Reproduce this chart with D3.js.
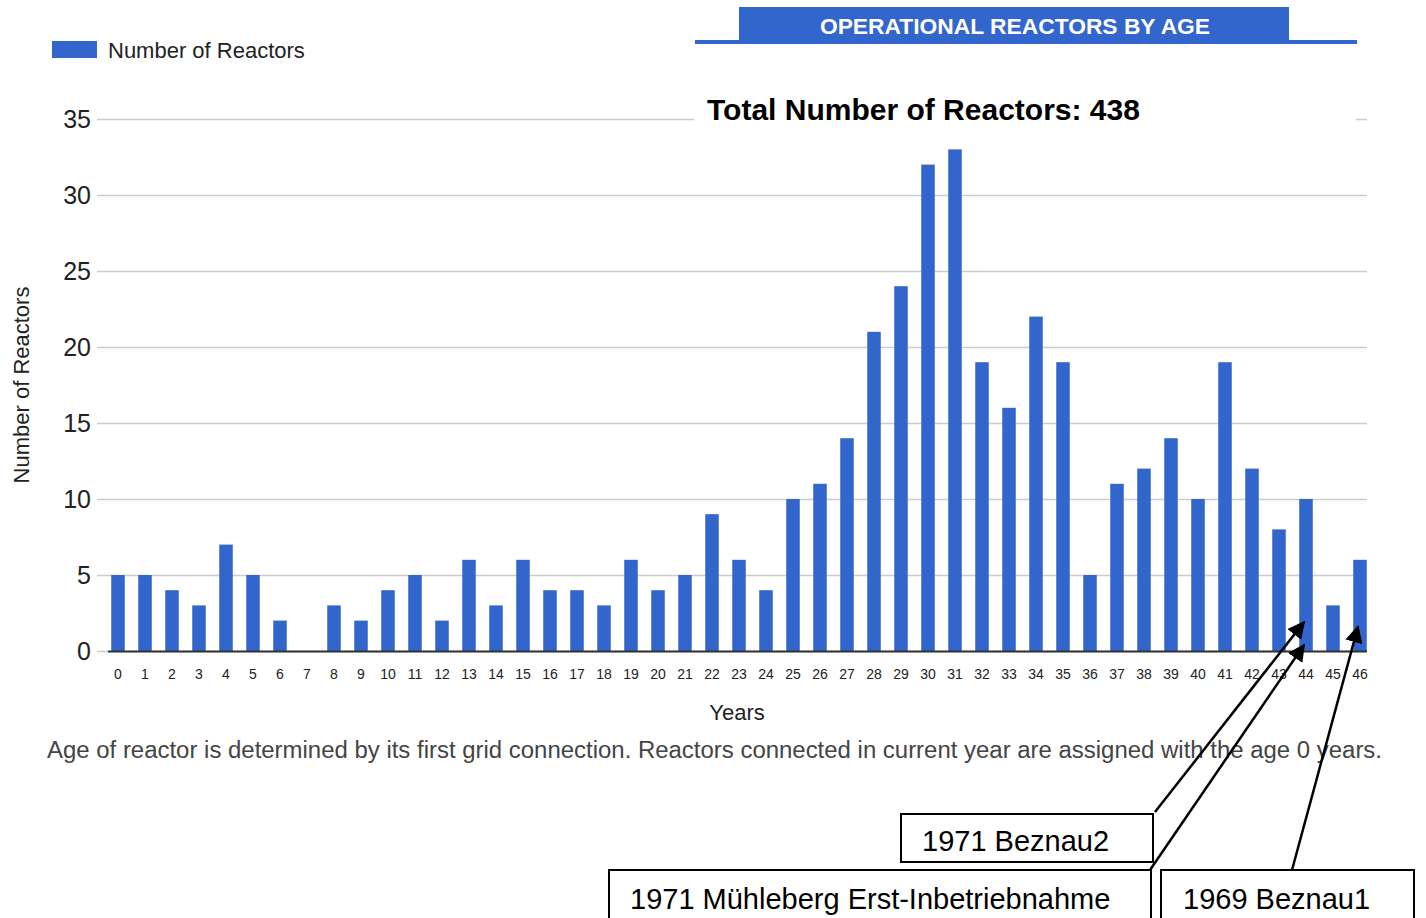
<!DOCTYPE html>
<html>
<head>
<meta charset="utf-8">
<script src="https://cdn.jsdelivr.net/npm/d3@7"></script>
<style>
	html, body { margin: 0; padding: 0; background: #fff; overflow: hidden; }
	svg { display: block; font-family: Arial, 'Liberation Sans', sans-serif; }
</style>
</head>
<body>
<div id="chart"></div>
<script>
// data
var ages = d3.range(0, 47);
var reactors = [5, 5, 4, 3, 7, 5, 2, 0, 3, 2,
	4, 5, 2, 6, 3, 6, 4, 4, 3, 6,
	4, 5, 9, 6, 4, 10, 11, 14, 21, 24,
	32, 33, 19, 16, 22, 19, 5, 11, 12, 14,
	10, 19, 12, 8, 10, 3, 6];
var y_ticks = [0, 5, 10, 15, 20, 25, 30, 35];
var notes = ['1971 Beznau2', '1971 Mühleberg Erst-Inbetriebnahme', '1969 Beznau1'];
var note_age = [44, 44, 46];
var note_val = [1.9, 0.4, 1.6];

var blue = '#3366cc';
var W = 1426, H = 918;

var svg = d3.select('#chart')
	.append('svg')
		.attr('width', W)
		.attr('height', H);

svg.append('defs').append('marker')
	.attr('id', 'arrow')
	.attr('viewBox', '0 0 10 10')
	.attr('refX', 9)
	.attr('refY', 5)
	.attr('markerWidth', 7)
	.attr('markerHeight', 7)
	.attr('markerUnits', 'strokeWidth')
	.attr('orient', 'auto')
	.append('path')
		.attr('d', 'M0,0 L10,5 L0,10 z')
		.style('fill', '#000');

var x = d3.scaleBand()
	.domain(ages)
	.range([104.5, 1373.5])
	.paddingInner(0.5)
	.paddingOuter(0.25);

var y = d3.scaleLinear()
	.domain([0, 35])
	.range([651, 119]);

// grid
svg.append('g')
	.selectAll('line')
	.data(y_ticks)
	.enter()
	.append('line')
		.attr('x1', 97)
		.attr('x2', 1367)
		.attr('y1', function(d) { return y(d) + 0.5; })
		.attr('y2', function(d) { return y(d) + 0.5; })
		.style('stroke', '#cccccc')
		.style('stroke-width', 1.5);

// y axis labels
svg.append('g')
	.selectAll('text')
	.data(y_ticks)
	.enter()
	.append('text')
		.attr('x', 91)
		.attr('y', function(d) { return y(d) + 9; })
		.attr('text-anchor', 'end')
		.text(function(d) { return d; })
		.style('font-size', '25px')
		.style('fill', '#222');

// bars
svg.append('g')
	.selectAll('rect')
	.data(reactors)
	.enter()
	.append('rect')
		.attr('x', function(d, i) { return x(ages[i]); })
		.attr('y', function(d) { return y(d); })
		.attr('width', x.bandwidth())
		.attr('height', function(d) { return y(0) - y(d); })
		.style('fill', blue);

// baseline
svg.append('line')
	.attr('x1', 108)
	.attr('x2', 1367)
	.attr('y1', y(0) + 0.5)
	.attr('y2', y(0) + 0.5)
	.style('stroke', '#333')
	.style('stroke-width', 2);

// x axis labels
svg.append('g')
	.selectAll('text')
	.data(ages)
	.enter()
	.append('text')
		.attr('x', function(d) { return x(d) + x.bandwidth() / 2; })
		.attr('y', 679)
		.attr('text-anchor', 'middle')
		.text(function(d) { return d; })
		.style('font-size', '14px')
		.style('fill', '#222');

// axis titles
svg.append('text')
	.attr('x', 737)
	.attr('y', 720)
	.attr('text-anchor', 'middle')
	.text('Years')
	.style('font-size', '22px')
	.style('fill', '#222');

svg.append('text')
	.attr('transform', 'translate(29,385) rotate(-90)')
	.attr('text-anchor', 'middle')
	.text('Number of Reactors')
	.style('font-size', '22px')
	.style('fill', '#222');

// legend
svg.append('rect')
	.attr('x', 52)
	.attr('y', 41)
	.attr('width', 45)
	.attr('height', 17)
	.style('fill', blue);
svg.append('text')
	.attr('x', 108)
	.attr('y', 58)
	.text('Number of Reactors')
	.style('font-size', '22px')
	.style('fill', '#222');

// header banner
svg.append('rect')
	.attr('x', 695)
	.attr('y', 40)
	.attr('width', 662)
	.attr('height', 4)
	.style('fill', blue);
svg.append('rect')
	.attr('x', 739)
	.attr('y', 7)
	.attr('width', 550)
	.attr('height', 36)
	.style('fill', blue);
svg.append('text')
	.attr('x', 1015)
	.attr('y', 34)
	.attr('text-anchor', 'middle')
	.text('OPERATIONAL REACTORS BY AGE')
	.style('font-size', '22.8px')
	.style('font-weight', 'bold')
	.style('fill', '#fff');

// total label over the top gridline
svg.append('rect')
	.attr('x', 694)
	.attr('y', 100)
	.attr('width', 662)
	.attr('height', 30)
	.style('fill', '#fff');
svg.append('text')
	.attr('x', 707)
	.attr('y', 120)
	.text('Total Number of Reactors: 438')
	.style('font-size', '30px')
	.style('font-weight', 'bold')
	.style('fill', '#000');

// caption
svg.append('text')
	.attr('x', 47)
	.attr('y', 758)
	.attr('textLength', 1335)
	.attr('lengthAdjust', 'spacingAndGlyphs')
	.text('Age of reactor is determined by its first grid connection. Reactors connected in current year are assigned with the age 0 years.')
	.style('font-size', '23px')
	.style('fill', '#444');

// annotations
var boxes = [
	{x: 901, y: 814, w: 252, h: 48, tx: 922, ty: 851, sx: 1155, sy: 812},
	{x: 609, y: 870, w: 542, h: 60, tx: 630, ty: 909, sx: 1150, sy: 870},
	{x: 1161, y: 870, w: 253, h: 60, tx: 1183, ty: 909, sx: 1292, sy: 870}
];

var ann = svg.append('g');
ann.selectAll('rect')
	.data(boxes)
	.enter()
	.append('rect')
		.attr('x', function(d) { return d.x; })
		.attr('y', function(d) { return d.y; })
		.attr('width', function(d) { return d.w; })
		.attr('height', function(d) { return d.h; })
		.style('fill', '#fff')
		.style('stroke', '#000')
		.style('stroke-width', 2);
ann.selectAll('text')
	.data(boxes)
	.enter()
	.append('text')
		.attr('x', function(d) { return d.tx; })
		.attr('y', function(d) { return d.ty; })
		.text(function(d, i) { return notes[i]; })
		.style('font-size', '29px')
		.style('fill', '#000');
ann.selectAll('line')
	.data(boxes)
	.enter()
	.append('line')
		.attr('x1', function(d) { return d.sx; })
		.attr('y1', function(d) { return d.sy; })
		.attr('x2', function(d, i) { return x(note_age[i]) + x.bandwidth() / 2 - 2; })
		.attr('y2', function(d, i) { return y(note_val[i]); })
		.attr('marker-end', 'url(#arrow)')
		.style('stroke', '#000')
		.style('stroke-width', 2.5);
</script>
</body>
</html>
